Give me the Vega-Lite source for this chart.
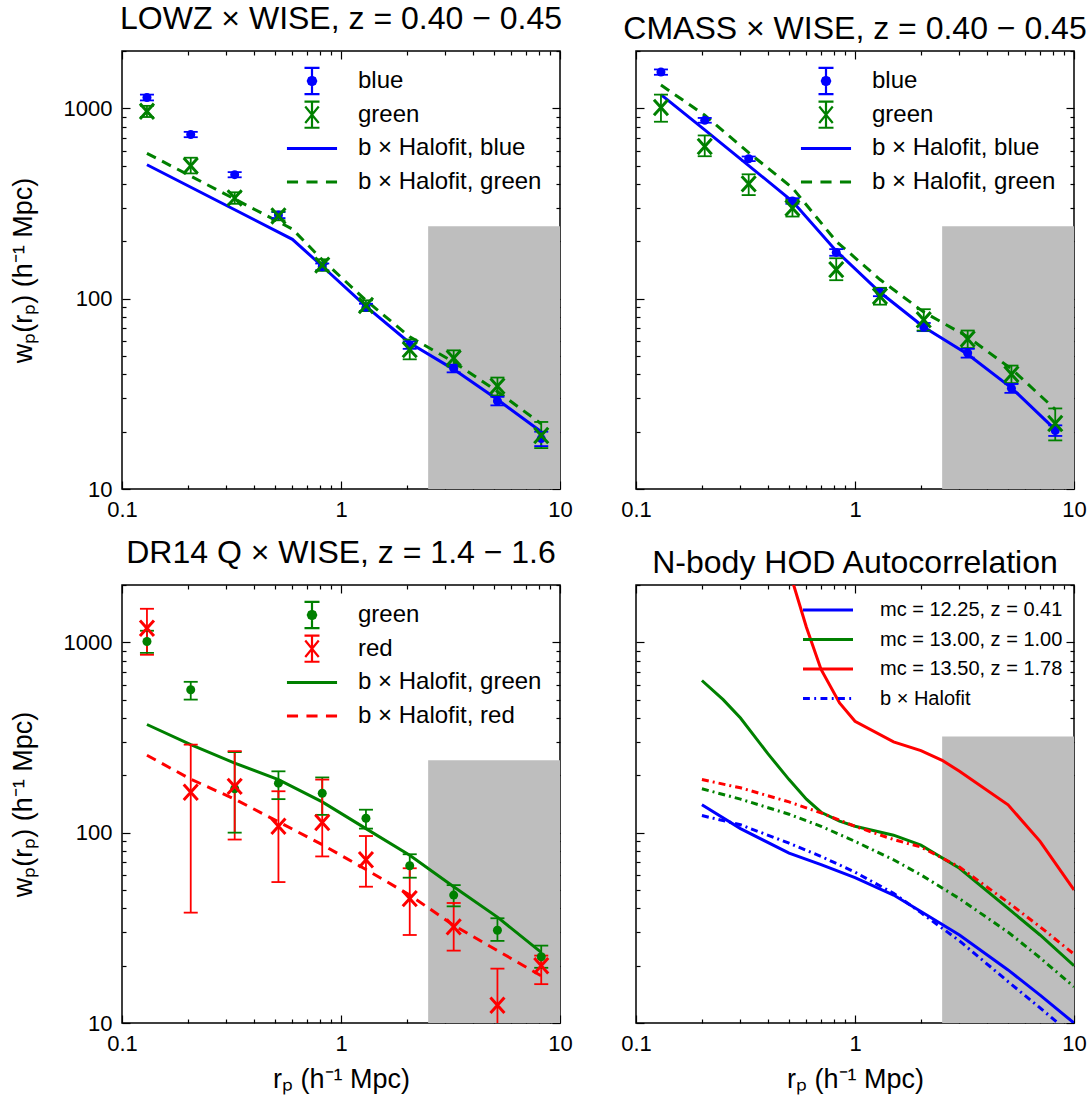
{
  "$schema": "https://vega.github.io/schema/vega-lite/v6.json",
  "padding": {"left": 8, "top": 2, "right": 5, "bottom": 5},
  "config": {
    "font": "Liberation Sans",
    "view": {"stroke": "black", "strokeWidth": 1.5},
    "axis": {"domain": false, "grid": false, "tickColor": "black", "tickWidth": 1.2, "labelFontSize": 22, "labelColor": "black", "labelFont": "Liberation Sans", "labelPadding": 18, "labelOverlap": false, "labelFlush": false, "titleFont": "Liberation Sans", "titleFontSize": 27, "titleFontWeight": "normal", "titleColor": "black"},
    "title": {"fontSize": 32, "fontWeight": "normal", "font": "Liberation Sans", "color": "black", "anchor": "middle", "offset": 4},
    "legend": {"labelFont": "Liberation Sans", "labelColor": "black", "orient": "top-right", "padding": 0, "labelLimit": 400}
  },
  "datasets": {
    "shade": [{"x": 2.5, "x2": 10, "y": 10, "y2": 240}],
    "shade4": [{"x": 2.5, "x2": 10, "y": 10, "y2": 320}],
    "p1": [
      {"x": 0.13, "y": 1140, "lo": 1100, "hi": 1180, "s": "blue"},
      {"x": 0.206, "y": 728, "lo": 705, "hi": 752, "s": "blue"},
      {"x": 0.327, "y": 448, "lo": 434, "hi": 462, "s": "blue"},
      {"x": 0.518, "y": 275, "lo": 265, "hi": 285, "s": "blue"},
      {"x": 0.821, "y": 147, "lo": 141, "hi": 153, "s": "blue"},
      {"x": 1.3, "y": 90, "lo": 86, "hi": 94, "s": "blue"},
      {"x": 2.06, "y": 57, "lo": 54.5, "hi": 59.5, "s": "blue"},
      {"x": 3.27, "y": 43, "lo": 41, "hi": 45, "s": "blue"},
      {"x": 5.18, "y": 29, "lo": 27.5, "hi": 30.5, "s": "blue"},
      {"x": 8.21, "y": 18.4, "lo": 16.8, "hi": 20, "s": "blue"},
      {"x": 0.13, "y": 964, "lo": 900, "hi": 1030, "s": "green"},
      {"x": 0.206, "y": 499, "lo": 455, "hi": 550, "s": "green"},
      {"x": 0.327, "y": 338, "lo": 315, "hi": 362, "s": "green"},
      {"x": 0.518, "y": 272, "lo": 258, "hi": 287, "s": "green"},
      {"x": 0.821, "y": 150, "lo": 140, "hi": 161, "s": "green"},
      {"x": 1.3, "y": 92, "lo": 86, "hi": 98, "s": "green"},
      {"x": 2.06, "y": 54, "lo": 48, "hi": 61, "s": "green"},
      {"x": 3.27, "y": 48.7, "lo": 44, "hi": 53.5, "s": "green"},
      {"x": 5.18, "y": 34.7, "lo": 31, "hi": 38.5, "s": "green"},
      {"x": 8.21, "y": 19.1, "lo": 16.4, "hi": 22.5, "s": "green"}
    ],
    "l1": [
      {"x": 0.13, "y": 505, "s": "b × Halofit, blue"},
      {"x": 0.6, "y": 205, "s": "b × Halofit, blue"},
      {"x": 0.821, "y": 148, "s": "b × Halofit, blue"},
      {"x": 1.3, "y": 91, "s": "b × Halofit, blue"},
      {"x": 2.06, "y": 58.5, "s": "b × Halofit, blue"},
      {"x": 3.27, "y": 42.5, "s": "b × Halofit, blue"},
      {"x": 5.18, "y": 29.5, "s": "b × Halofit, blue"},
      {"x": 8.21, "y": 20, "s": "b × Halofit, blue"},
      {"x": 0.13, "y": 580, "s": "b × Halofit, green"},
      {"x": 0.6, "y": 232, "s": "b × Halofit, green"},
      {"x": 0.821, "y": 160, "s": "b × Halofit, green"},
      {"x": 1.3, "y": 98, "s": "b × Halofit, green"},
      {"x": 2.06, "y": 63, "s": "b × Halofit, green"},
      {"x": 3.27, "y": 46.5, "s": "b × Halofit, green"},
      {"x": 5.18, "y": 32.5, "s": "b × Halofit, green"},
      {"x": 8.21, "y": 22, "s": "b × Halofit, green"}
    ],
    "p2": [
      {"x": 0.13, "y": 1550, "lo": 1500, "hi": 1600, "s": "blue"},
      {"x": 0.206, "y": 865, "lo": 840, "hi": 890, "s": "blue"},
      {"x": 0.327, "y": 543, "lo": 528, "hi": 558, "s": "blue"},
      {"x": 0.518, "y": 326, "lo": 315, "hi": 337, "s": "blue"},
      {"x": 0.821, "y": 175, "lo": 168, "hi": 182, "s": "blue"},
      {"x": 1.3, "y": 108, "lo": 103, "hi": 113, "s": "blue"},
      {"x": 2.06, "y": 71, "lo": 67.5, "hi": 74.5, "s": "blue"},
      {"x": 3.27, "y": 51.8, "lo": 49, "hi": 54.5, "s": "blue"},
      {"x": 5.18, "y": 33.8, "lo": 32, "hi": 35.6, "s": "blue"},
      {"x": 8.21, "y": 20.3, "lo": 19, "hi": 21.6, "s": "blue"},
      {"x": 0.13, "y": 1010, "lo": 850, "hi": 1180, "s": "green"},
      {"x": 0.206, "y": 630, "lo": 560, "hi": 720, "s": "green"},
      {"x": 0.327, "y": 401, "lo": 350, "hi": 450, "s": "green"},
      {"x": 0.518, "y": 299, "lo": 270, "hi": 330, "s": "green"},
      {"x": 0.821, "y": 142, "lo": 125, "hi": 163, "s": "green"},
      {"x": 1.3, "y": 103, "lo": 93, "hi": 114, "s": "green"},
      {"x": 2.06, "y": 77.4, "lo": 68, "hi": 88, "s": "green"},
      {"x": 3.27, "y": 61.4, "lo": 55, "hi": 68, "s": "green"},
      {"x": 5.18, "y": 40.1, "lo": 36, "hi": 44.5, "s": "green"},
      {"x": 8.21, "y": 22.1, "lo": 18, "hi": 26.5, "s": "green"}
    ],
    "l2": [
      {"x": 0.13, "y": 1180, "s": "b × Halofit, blue"},
      {"x": 0.206, "y": 770, "s": "b × Halofit, blue"},
      {"x": 0.327, "y": 500, "s": "b × Halofit, blue"},
      {"x": 0.518, "y": 325, "s": "b × Halofit, blue"},
      {"x": 0.821, "y": 178, "s": "b × Halofit, blue"},
      {"x": 1.3, "y": 108, "s": "b × Halofit, blue"},
      {"x": 2.06, "y": 71, "s": "b × Halofit, blue"},
      {"x": 3.27, "y": 51, "s": "b × Halofit, blue"},
      {"x": 5.18, "y": 34, "s": "b × Halofit, blue"},
      {"x": 8.21, "y": 20.5, "s": "b × Halofit, blue"},
      {"x": 0.13, "y": 1325, "s": "b × Halofit, green"},
      {"x": 0.206, "y": 920, "s": "b × Halofit, green"},
      {"x": 0.327, "y": 585, "s": "b × Halofit, green"},
      {"x": 0.518, "y": 382, "s": "b × Halofit, green"},
      {"x": 0.821, "y": 200, "s": "b × Halofit, green"},
      {"x": 1.3, "y": 126, "s": "b × Halofit, green"},
      {"x": 2.06, "y": 85, "s": "b × Halofit, green"},
      {"x": 3.27, "y": 63, "s": "b × Halofit, green"},
      {"x": 5.18, "y": 42.7, "s": "b × Halofit, green"},
      {"x": 8.21, "y": 26.2, "s": "b × Halofit, green"}
    ],
    "p3": [
      {"x": 0.13, "y": 1010, "lo": 880, "hi": 1150, "s": "green"},
      {"x": 0.206, "y": 563, "lo": 500, "hi": 620, "s": "green"},
      {"x": 0.327, "y": 170, "lo": 100, "hi": 265, "s": "green"},
      {"x": 0.518, "y": 182, "lo": 150, "hi": 210, "s": "green"},
      {"x": 0.821, "y": 161, "lo": 124, "hi": 195, "s": "green"},
      {"x": 1.3, "y": 119, "lo": 105, "hi": 132, "s": "green"},
      {"x": 2.06, "y": 67, "lo": 58, "hi": 77, "s": "green"},
      {"x": 3.27, "y": 47, "lo": 41, "hi": 53, "s": "green"},
      {"x": 5.18, "y": 30.7, "lo": 27, "hi": 35.5, "s": "green"},
      {"x": 8.21, "y": 22.3, "lo": 19.5, "hi": 25.5, "s": "green"},
      {"x": 0.13, "y": 1186, "lo": 860, "hi": 1500, "s": "red"},
      {"x": 0.206, "y": 163, "lo": 38, "hi": 290, "s": "red"},
      {"x": 0.327, "y": 175, "lo": 92, "hi": 268, "s": "red"},
      {"x": 0.518, "y": 108, "lo": 55, "hi": 165, "s": "red"},
      {"x": 0.821, "y": 113, "lo": 75, "hi": 190, "s": "red"},
      {"x": 1.3, "y": 72, "lo": 52, "hi": 96, "s": "red"},
      {"x": 2.06, "y": 45, "lo": 29, "hi": 65, "s": "red"},
      {"x": 3.27, "y": 32, "lo": 24, "hi": 42.7, "s": "red"},
      {"x": 5.18, "y": 12.4, "lo": 5, "hi": 19.3, "s": "red"},
      {"x": 8.21, "y": 20, "lo": 16, "hi": 22.6, "s": "red"}
    ],
    "l3": [
      {"x": 0.13, "y": 370, "s": "b × Halofit, green"},
      {"x": 0.206, "y": 290, "s": "b × Halofit, green"},
      {"x": 0.327, "y": 232, "s": "b × Halofit, green"},
      {"x": 0.518, "y": 190, "s": "b × Halofit, green"},
      {"x": 0.821, "y": 145, "s": "b × Halofit, green"},
      {"x": 1.3, "y": 105, "s": "b × Halofit, green"},
      {"x": 2.06, "y": 76, "s": "b × Halofit, green"},
      {"x": 3.27, "y": 52, "s": "b × Halofit, green"},
      {"x": 5.18, "y": 36, "s": "b × Halofit, green"},
      {"x": 8.21, "y": 23.5, "s": "b × Halofit, green"},
      {"x": 0.13, "y": 255, "s": "b × Halofit, red"},
      {"x": 0.206, "y": 191, "s": "b × Halofit, red"},
      {"x": 0.327, "y": 150, "s": "b × Halofit, red"},
      {"x": 0.518, "y": 114, "s": "b × Halofit, red"},
      {"x": 0.821, "y": 86.5, "s": "b × Halofit, red"},
      {"x": 1.3, "y": 64, "s": "b × Halofit, red"},
      {"x": 2.06, "y": 47, "s": "b × Halofit, red"},
      {"x": 3.27, "y": 32.6, "s": "b × Halofit, red"},
      {"x": 5.18, "y": 24, "s": "b × Halofit, red"},
      {"x": 8.21, "y": 17.7, "s": "b × Halofit, red"}
    ],
    "l4": [
      {"x": 0.2, "y": 140, "s": "mc = 12.25, z = 0.41"},
      {"x": 0.3, "y": 105, "s": "mc = 12.25, z = 0.41"},
      {"x": 0.5, "y": 78, "s": "mc = 12.25, z = 0.41"},
      {"x": 0.7, "y": 68, "s": "mc = 12.25, z = 0.41"},
      {"x": 1, "y": 58, "s": "mc = 12.25, z = 0.41"},
      {"x": 1.5, "y": 47, "s": "mc = 12.25, z = 0.41"},
      {"x": 2, "y": 38.5, "s": "mc = 12.25, z = 0.41"},
      {"x": 3, "y": 29, "s": "mc = 12.25, z = 0.41"},
      {"x": 5, "y": 19, "s": "mc = 12.25, z = 0.41"},
      {"x": 7, "y": 14, "s": "mc = 12.25, z = 0.41"},
      {"x": 10, "y": 10, "s": "mc = 12.25, z = 0.41"},
      {"x": 0.2, "y": 630, "s": "mc = 13.00, z = 1.00"},
      {"x": 0.25, "y": 500, "s": "mc = 13.00, z = 1.00"},
      {"x": 0.3, "y": 400, "s": "mc = 13.00, z = 1.00"},
      {"x": 0.4, "y": 260, "s": "mc = 13.00, z = 1.00"},
      {"x": 0.5, "y": 190, "s": "mc = 13.00, z = 1.00"},
      {"x": 0.6, "y": 150, "s": "mc = 13.00, z = 1.00"},
      {"x": 0.7, "y": 128, "s": "mc = 13.00, z = 1.00"},
      {"x": 0.85, "y": 115, "s": "mc = 13.00, z = 1.00"},
      {"x": 1, "y": 108, "s": "mc = 13.00, z = 1.00"},
      {"x": 1.5, "y": 97, "s": "mc = 13.00, z = 1.00"},
      {"x": 2, "y": 86, "s": "mc = 13.00, z = 1.00"},
      {"x": 3, "y": 65, "s": "mc = 13.00, z = 1.00"},
      {"x": 5, "y": 40, "s": "mc = 13.00, z = 1.00"},
      {"x": 7, "y": 29, "s": "mc = 13.00, z = 1.00"},
      {"x": 10, "y": 20, "s": "mc = 13.00, z = 1.00"},
      {"x": 0.2, "y": 30000, "s": "mc = 13.50, z = 1.78"},
      {"x": 0.3, "y": 9000, "s": "mc = 13.50, z = 1.78"},
      {"x": 0.4, "y": 4300, "s": "mc = 13.50, z = 1.78"},
      {"x": 0.5, "y": 2400, "s": "mc = 13.50, z = 1.78"},
      {"x": 0.6, "y": 1200, "s": "mc = 13.50, z = 1.78"},
      {"x": 0.7, "y": 720, "s": "mc = 13.50, z = 1.78"},
      {"x": 0.85, "y": 480, "s": "mc = 13.50, z = 1.78"},
      {"x": 1, "y": 385, "s": "mc = 13.50, z = 1.78"},
      {"x": 1.5, "y": 300, "s": "mc = 13.50, z = 1.78"},
      {"x": 2, "y": 270, "s": "mc = 13.50, z = 1.78"},
      {"x": 2.5, "y": 240, "s": "mc = 13.50, z = 1.78"},
      {"x": 3, "y": 210, "s": "mc = 13.50, z = 1.78"},
      {"x": 5, "y": 140, "s": "mc = 13.50, z = 1.78"},
      {"x": 7, "y": 90, "s": "mc = 13.50, z = 1.78"},
      {"x": 10, "y": 50, "s": "mc = 13.50, z = 1.78"},
      {"x": 0.2, "y": 123, "s": "b × Halofit"},
      {"x": 0.3, "y": 110, "s": "b × Halofit"},
      {"x": 0.5, "y": 88, "s": "b × Halofit"},
      {"x": 0.7, "y": 75, "s": "b × Halofit"},
      {"x": 1, "y": 62, "s": "b × Halofit"},
      {"x": 1.5, "y": 48, "s": "b × Halofit"},
      {"x": 2, "y": 38, "s": "b × Halofit"},
      {"x": 3, "y": 27, "s": "b × Halofit"},
      {"x": 5, "y": 16.5, "s": "b × Halofit"},
      {"x": 7, "y": 12, "s": "b × Halofit"},
      {"x": 10, "y": 8.5, "s": "b × Halofit"},
      {"x": 0.2, "y": 170, "s": "hf green"},
      {"x": 0.3, "y": 150, "s": "hf green"},
      {"x": 0.5, "y": 125, "s": "hf green"},
      {"x": 0.7, "y": 108, "s": "hf green"},
      {"x": 1, "y": 90, "s": "hf green"},
      {"x": 1.5, "y": 72, "s": "hf green"},
      {"x": 2, "y": 60, "s": "hf green"},
      {"x": 3, "y": 45, "s": "hf green"},
      {"x": 5, "y": 30, "s": "hf green"},
      {"x": 7, "y": 22, "s": "hf green"},
      {"x": 10, "y": 15.5, "s": "hf green"},
      {"x": 0.2, "y": 190, "s": "hf red"},
      {"x": 0.3, "y": 172, "s": "hf red"},
      {"x": 0.5, "y": 145, "s": "hf red"},
      {"x": 0.7, "y": 127, "s": "hf red"},
      {"x": 1, "y": 108, "s": "hf red"},
      {"x": 1.5, "y": 92, "s": "hf red"},
      {"x": 2, "y": 84, "s": "hf red"},
      {"x": 3, "y": 66, "s": "hf red"},
      {"x": 5, "y": 43, "s": "hf red"},
      {"x": 7, "y": 32, "s": "hf red"},
      {"x": 10, "y": 23, "s": "hf red"}
    ]
  },
  "bounds": "flush",
  "columns": 2,
  "spacing": {"row": 96, "column": 76},
  "resolve": {"scale": {"color": "independent", "x": "independent", "y": "independent"}, "legend": {"color": "independent"}},
  "concat": [
    {
      "width": 438, "height": 438,
      "title": {"text": "LOWZ × WISE, z = 0.40 − 0.45"},
      "encoding": {"color": {"field": "s", "type": "nominal",
        "scale": {"domain": ["blue", "green", "b × Halofit, blue", "b × Halofit, green"], "range": ["#0000ff", "#008000", "#0000ff", "#008000"]},
        "legend": {"title": null, "offset": 18, "symbolSize": 900, "labelFontSize": 24, "labelOffset": 34, "rowPadding": -2.3,
          "encode": {"symbols": {"update": {
            "shape": {"signal": "datum.index == 0 ? 'M0,-0.87V0.87M-0.5,-0.87H0.5M-0.5,0.87H0.5M0.28,0L0.2,0.2L0,0.28L-0.2,0.2L-0.28,0L-0.2,-0.2L0,-0.28L0.2,-0.2Z' : datum.index == 1 ? 'M0,-0.87V0.87M-0.5,-0.87H0.5M-0.5,0.87H0.5M-0.45,-0.55L0.45,0.55M0.45,-0.55L-0.45,0.55' : datum.index == 2 ? 'M0,-0.78M0,0.78M-1.67,0H1.67' : 'M0,-0.78M0,0.78M-1.67,0H-0.93M-0.37,0H0.37M0.93,0H1.67'"},
            "fill": {"signal": "datum.index == 0 ? '#0000ff' : 'transparent'"},
            "stroke": {"signal": "datum.index % 2 == 0 ? '#0000ff' : '#008000'"},
            "strokeWidth": {"signal": "datum.index < 2 ? 2.2 : 3"},
            "opacity": {"value": 1}, "fillOpacity": {"value": 1}, "strokeOpacity": {"value": 1}}}}}}},
      "layer": [
        {"data": {"name": "shade"}, "mark": {"type": "rect"},
          "encoding": {"x": {"field": "x", "type": "quantitative", "scale": {"type": "log", "domain": [0.1, 10], "nice": false},
              "axis": {"orient": "bottom", "values": [0.1,0.2,0.3,0.4,0.5,0.6,0.7,0.8,0.9,1,2,3,4,5,6,7,8,9,10], "labelExpr": "datum.value == 0.1 ? '0.1' : datum.value == 1 ? '1' : datum.value == 10 ? '10' : ''", "tickSize": {"condition": {"test": "datum.value == 0.1 || datum.value == 1 || datum.value == 10", "value": -8}, "value": -4}, "title": null}},
            "x2": {"field": "x2"},
            "y": {"field": "y", "type": "quantitative", "scale": {"type": "log", "domain": [10, 2000], "nice": false},
              "axis": {"orient": "left", "values": [10,20,30,40,50,60,70,80,90,100,200,300,400,500,600,700,800,900,1000,2000], "labelExpr": "datum.value == 10 ? '10' : datum.value == 100 ? '100' : datum.value == 1000 ? '1000' : ''", "tickSize": {"condition": {"test": "datum.value == 10 || datum.value == 100 || datum.value == 1000", "value": -8}, "value": -4}, "title": "wₚ(rₚ) (h⁻¹ Mpc)", "titlePadding": 26}},
            "y2": {"field": "y2"}, "color": {"value": "#bebebe"}}},
        {"data": {"name": "shade"}, "mark": {"type": "rect", "opacity": 0},
          "encoding": {"x": {"field": "x", "type": "quantitative", "scale": {"type": "log", "domain": [0.1, 10], "nice": false},
              "axis": {"orient": "top", "values": [0.1,0.2,0.3,0.4,0.5,0.6,0.7,0.8,0.9,1,2,3,4,5,6,7,8,9,10], "labels": false, "tickSize": {"condition": {"test": "datum.value == 0.1 || datum.value == 1 || datum.value == 10", "value": -8}, "value": -4}, "title": null}},
            "x2": {"field": "x2"},
            "y": {"field": "y", "type": "quantitative", "scale": {"type": "log", "domain": [10, 2000], "nice": false},
              "axis": {"orient": "right", "values": [10,20,30,40,50,60,70,80,90,100,200,300,400,500,600,700,800,900,1000,2000], "labels": false, "tickSize": {"condition": {"test": "datum.value == 10 || datum.value == 100 || datum.value == 1000", "value": -8}, "value": -4}, "title": null}},
            "y2": {"field": "y2"}, "color": {"value": "#bebebe"}}},
        {"data": {"name": "l1"}, "transform": [{"filter": "datum.s == 'b × Halofit, blue'"}], "mark": {"type": "line", "strokeWidth": 3, "clip": true},
          "encoding": {"x": {"field": "x", "type": "quantitative", "scale": {"type": "log", "domain": [0.1, 10], "nice": false}, "axis": null}, "y": {"field": "y", "type": "quantitative", "scale": {"type": "log", "domain": [10, 2000], "nice": false}, "axis": null}}},
        {"data": {"name": "l1"}, "transform": [{"filter": "datum.s == 'b × Halofit, green'"}], "mark": {"type": "line", "strokeWidth": 3, "strokeDash": [10, 7], "clip": true},
          "encoding": {"x": {"field": "x", "type": "quantitative", "scale": {"type": "log", "domain": [0.1, 10], "nice": false}, "axis": null}, "y": {"field": "y", "type": "quantitative", "scale": {"type": "log", "domain": [10, 2000], "nice": false}, "axis": null}}},
        {"data": {"name": "p1"}, "mark": {"type": "rule", "strokeWidth": 1.8, "clip": true},
          "encoding": {"x": {"field": "x", "type": "quantitative", "scale": {"type": "log", "domain": [0.1, 10], "nice": false}, "axis": null}, "y": {"field": "lo", "type": "quantitative", "scale": {"type": "log", "domain": [10, 2000], "nice": false}, "axis": null}, "y2": {"field": "hi"}}},
        {"data": {"name": "p1"}, "mark": {"type": "point", "shape": "M-1,0H1", "size": 196, "strokeWidth": 1.8, "opacity": 1, "clip": true},
          "encoding": {"x": {"field": "x", "type": "quantitative", "scale": {"type": "log", "domain": [0.1, 10], "nice": false}, "axis": null}, "y": {"field": "lo", "type": "quantitative", "scale": {"type": "log", "domain": [10, 2000], "nice": false}, "axis": null}}},
        {"data": {"name": "p1"}, "mark": {"type": "point", "shape": "M-1,0H1", "size": 196, "strokeWidth": 1.8, "opacity": 1, "clip": true},
          "encoding": {"x": {"field": "x", "type": "quantitative", "scale": {"type": "log", "domain": [0.1, 10], "nice": false}, "axis": null}, "y": {"field": "hi", "type": "quantitative", "scale": {"type": "log", "domain": [10, 2000], "nice": false}, "axis": null}}},
        {"data": {"name": "p1"}, "transform": [{"filter": "datum.s == 'blue'"}], "mark": {"type": "point", "shape": "circle", "filled": true, "size": 81, "opacity": 1, "clip": true},
          "encoding": {"x": {"field": "x", "type": "quantitative", "scale": {"type": "log", "domain": [0.1, 10], "nice": false}, "axis": null}, "y": {"field": "y", "type": "quantitative", "scale": {"type": "log", "domain": [10, 2000], "nice": false}, "axis": null}}},
        {"data": {"name": "p1"}, "transform": [{"filter": "datum.s == 'green'"}], "mark": {"type": "point", "shape": "M-1,-1.1L1,1.1M1,-1.1L-1,1.1", "size": 196, "strokeWidth": 3, "opacity": 1, "clip": true},
          "encoding": {"x": {"field": "x", "type": "quantitative", "scale": {"type": "log", "domain": [0.1, 10], "nice": false}, "axis": null}, "y": {"field": "y", "type": "quantitative", "scale": {"type": "log", "domain": [10, 2000], "nice": false}, "axis": null}}}
      ],
      "resolve": {"axis": {"x": "independent", "y": "independent"}}
    },
    {
      "width": 438, "height": 438,
      "title": {"text": "CMASS × WISE, z = 0.40 − 0.45"},
      "encoding": {"color": {"field": "s", "type": "nominal",
        "scale": {"domain": ["blue", "green", "b × Halofit, blue", "b × Halofit, green"], "range": ["#0000ff", "#008000", "#0000ff", "#008000"]},
        "legend": {"title": null, "offset": 18, "symbolSize": 900, "labelFontSize": 24, "labelOffset": 34, "rowPadding": -2.3,
          "encode": {"symbols": {"update": {
            "shape": {"signal": "datum.index == 0 ? 'M0,-0.87V0.87M-0.5,-0.87H0.5M-0.5,0.87H0.5M0.28,0L0.2,0.2L0,0.28L-0.2,0.2L-0.28,0L-0.2,-0.2L0,-0.28L0.2,-0.2Z' : datum.index == 1 ? 'M0,-0.87V0.87M-0.5,-0.87H0.5M-0.5,0.87H0.5M-0.45,-0.55L0.45,0.55M0.45,-0.55L-0.45,0.55' : datum.index == 2 ? 'M0,-0.78M0,0.78M-1.67,0H1.67' : 'M0,-0.78M0,0.78M-1.67,0H-0.93M-0.37,0H0.37M0.93,0H1.67'"},
            "fill": {"signal": "datum.index == 0 ? '#0000ff' : 'transparent'"},
            "stroke": {"signal": "datum.index % 2 == 0 ? '#0000ff' : '#008000'"},
            "strokeWidth": {"signal": "datum.index < 2 ? 2.2 : 3"},
            "opacity": {"value": 1}, "fillOpacity": {"value": 1}, "strokeOpacity": {"value": 1}}}}}}},
      "layer": [
        {"data": {"name": "shade"}, "mark": {"type": "rect"},
          "encoding": {"x": {"field": "x", "type": "quantitative", "scale": {"type": "log", "domain": [0.1, 10], "nice": false},
              "axis": {"orient": "bottom", "values": [0.1,0.2,0.3,0.4,0.5,0.6,0.7,0.8,0.9,1,2,3,4,5,6,7,8,9,10], "labelExpr": "datum.value == 0.1 ? '0.1' : datum.value == 1 ? '1' : datum.value == 10 ? '10' : ''", "tickSize": {"condition": {"test": "datum.value == 0.1 || datum.value == 1 || datum.value == 10", "value": -8}, "value": -4}, "title": null}},
            "x2": {"field": "x2"},
            "y": {"field": "y", "type": "quantitative", "scale": {"type": "log", "domain": [10, 2000], "nice": false},
              "axis": {"orient": "left", "values": [10,20,30,40,50,60,70,80,90,100,200,300,400,500,600,700,800,900,1000,2000], "labels": false, "tickSize": {"condition": {"test": "datum.value == 10 || datum.value == 100 || datum.value == 1000", "value": -8}, "value": -4}, "title": null}},
            "y2": {"field": "y2"}, "color": {"value": "#bebebe"}}},
        {"data": {"name": "shade"}, "mark": {"type": "rect", "opacity": 0},
          "encoding": {"x": {"field": "x", "type": "quantitative", "scale": {"type": "log", "domain": [0.1, 10], "nice": false},
              "axis": {"orient": "top", "values": [0.1,0.2,0.3,0.4,0.5,0.6,0.7,0.8,0.9,1,2,3,4,5,6,7,8,9,10], "labels": false, "tickSize": {"condition": {"test": "datum.value == 0.1 || datum.value == 1 || datum.value == 10", "value": -8}, "value": -4}, "title": null}},
            "x2": {"field": "x2"},
            "y": {"field": "y", "type": "quantitative", "scale": {"type": "log", "domain": [10, 2000], "nice": false},
              "axis": {"orient": "right", "values": [10,20,30,40,50,60,70,80,90,100,200,300,400,500,600,700,800,900,1000,2000], "labels": false, "tickSize": {"condition": {"test": "datum.value == 10 || datum.value == 100 || datum.value == 1000", "value": -8}, "value": -4}, "title": null}},
            "y2": {"field": "y2"}, "color": {"value": "#bebebe"}}},
        {"data": {"name": "l2"}, "transform": [{"filter": "datum.s == 'b × Halofit, blue'"}], "mark": {"type": "line", "strokeWidth": 3, "clip": true},
          "encoding": {"x": {"field": "x", "type": "quantitative", "scale": {"type": "log", "domain": [0.1, 10], "nice": false}, "axis": null}, "y": {"field": "y", "type": "quantitative", "scale": {"type": "log", "domain": [10, 2000], "nice": false}, "axis": null}}},
        {"data": {"name": "l2"}, "transform": [{"filter": "datum.s == 'b × Halofit, green'"}], "mark": {"type": "line", "strokeWidth": 3, "strokeDash": [10, 7], "clip": true},
          "encoding": {"x": {"field": "x", "type": "quantitative", "scale": {"type": "log", "domain": [0.1, 10], "nice": false}, "axis": null}, "y": {"field": "y", "type": "quantitative", "scale": {"type": "log", "domain": [10, 2000], "nice": false}, "axis": null}}},
        {"data": {"name": "p2"}, "mark": {"type": "rule", "strokeWidth": 1.8, "clip": true},
          "encoding": {"x": {"field": "x", "type": "quantitative", "scale": {"type": "log", "domain": [0.1, 10], "nice": false}, "axis": null}, "y": {"field": "lo", "type": "quantitative", "scale": {"type": "log", "domain": [10, 2000], "nice": false}, "axis": null}, "y2": {"field": "hi"}}},
        {"data": {"name": "p2"}, "mark": {"type": "point", "shape": "M-1,0H1", "size": 196, "strokeWidth": 1.8, "opacity": 1, "clip": true},
          "encoding": {"x": {"field": "x", "type": "quantitative", "scale": {"type": "log", "domain": [0.1, 10], "nice": false}, "axis": null}, "y": {"field": "lo", "type": "quantitative", "scale": {"type": "log", "domain": [10, 2000], "nice": false}, "axis": null}}},
        {"data": {"name": "p2"}, "mark": {"type": "point", "shape": "M-1,0H1", "size": 196, "strokeWidth": 1.8, "opacity": 1, "clip": true},
          "encoding": {"x": {"field": "x", "type": "quantitative", "scale": {"type": "log", "domain": [0.1, 10], "nice": false}, "axis": null}, "y": {"field": "hi", "type": "quantitative", "scale": {"type": "log", "domain": [10, 2000], "nice": false}, "axis": null}}},
        {"data": {"name": "p2"}, "transform": [{"filter": "datum.s == 'blue'"}], "mark": {"type": "point", "shape": "circle", "filled": true, "size": 81, "opacity": 1, "clip": true},
          "encoding": {"x": {"field": "x", "type": "quantitative", "scale": {"type": "log", "domain": [0.1, 10], "nice": false}, "axis": null}, "y": {"field": "y", "type": "quantitative", "scale": {"type": "log", "domain": [10, 2000], "nice": false}, "axis": null}}},
        {"data": {"name": "p2"}, "transform": [{"filter": "datum.s == 'green'"}], "mark": {"type": "point", "shape": "M-1,-1.1L1,1.1M1,-1.1L-1,1.1", "size": 196, "strokeWidth": 3, "opacity": 1, "clip": true},
          "encoding": {"x": {"field": "x", "type": "quantitative", "scale": {"type": "log", "domain": [0.1, 10], "nice": false}, "axis": null}, "y": {"field": "y", "type": "quantitative", "scale": {"type": "log", "domain": [10, 2000], "nice": false}, "axis": null}}}
      ],
      "resolve": {"axis": {"x": "independent", "y": "independent"}}
    },
    {
      "width": 438, "height": 438,
      "title": {"text": "DR14 Q × WISE, z = 1.4 − 1.6"},
      "encoding": {"color": {"field": "s", "type": "nominal",
        "scale": {"domain": ["green", "red", "b × Halofit, green", "b × Halofit, red"], "range": ["#008000", "#ff0000", "#008000", "#ff0000"]},
        "legend": {"title": null, "offset": 18, "symbolSize": 900, "labelFontSize": 24, "labelOffset": 34, "rowPadding": -2.3,
          "encode": {"symbols": {"update": {
            "shape": {"signal": "datum.index == 0 ? 'M0,-0.87V0.87M-0.5,-0.87H0.5M-0.5,0.87H0.5M0.28,0L0.2,0.2L0,0.28L-0.2,0.2L-0.28,0L-0.2,-0.2L0,-0.28L0.2,-0.2Z' : datum.index == 1 ? 'M0,-0.87V0.87M-0.5,-0.87H0.5M-0.5,0.87H0.5M-0.45,-0.55L0.45,0.55M0.45,-0.55L-0.45,0.55' : datum.index == 2 ? 'M0,-0.78M0,0.78M-1.67,0H1.67' : 'M0,-0.78M0,0.78M-1.67,0H-0.93M-0.37,0H0.37M0.93,0H1.67'"},
            "fill": {"signal": "datum.index == 0 ? '#008000' : 'transparent'"},
            "stroke": {"signal": "datum.index % 2 == 0 ? '#008000' : '#ff0000'"},
            "strokeWidth": {"signal": "datum.index < 2 ? 2.2 : 3"},
            "opacity": {"value": 1}, "fillOpacity": {"value": 1}, "strokeOpacity": {"value": 1}}}}}}},
      "layer": [
        {"data": {"name": "shade"}, "mark": {"type": "rect"},
          "encoding": {"x": {"field": "x", "type": "quantitative", "scale": {"type": "log", "domain": [0.1, 10], "nice": false},
              "axis": {"orient": "bottom", "values": [0.1,0.2,0.3,0.4,0.5,0.6,0.7,0.8,0.9,1,2,3,4,5,6,7,8,9,10], "labelExpr": "datum.value == 0.1 ? '0.1' : datum.value == 1 ? '1' : datum.value == 10 ? '10' : ''", "tickSize": {"condition": {"test": "datum.value == 0.1 || datum.value == 1 || datum.value == 10", "value": -8}, "value": -4}, "title": "rₚ (h⁻¹ Mpc)", "titlePadding": 8}},
            "x2": {"field": "x2"},
            "y": {"field": "y", "type": "quantitative", "scale": {"type": "log", "domain": [10, 2000], "nice": false},
              "axis": {"orient": "left", "values": [10,20,30,40,50,60,70,80,90,100,200,300,400,500,600,700,800,900,1000,2000], "labelExpr": "datum.value == 10 ? '10' : datum.value == 100 ? '100' : datum.value == 1000 ? '1000' : ''", "tickSize": {"condition": {"test": "datum.value == 10 || datum.value == 100 || datum.value == 1000", "value": -8}, "value": -4}, "title": "wₚ(rₚ) (h⁻¹ Mpc)", "titlePadding": 26}},
            "y2": {"field": "y2"}, "color": {"value": "#bebebe"}}},
        {"data": {"name": "shade"}, "mark": {"type": "rect", "opacity": 0},
          "encoding": {"x": {"field": "x", "type": "quantitative", "scale": {"type": "log", "domain": [0.1, 10], "nice": false},
              "axis": {"orient": "top", "values": [0.1,0.2,0.3,0.4,0.5,0.6,0.7,0.8,0.9,1,2,3,4,5,6,7,8,9,10], "labels": false, "tickSize": {"condition": {"test": "datum.value == 0.1 || datum.value == 1 || datum.value == 10", "value": -8}, "value": -4}, "title": null}},
            "x2": {"field": "x2"},
            "y": {"field": "y", "type": "quantitative", "scale": {"type": "log", "domain": [10, 2000], "nice": false},
              "axis": {"orient": "right", "values": [10,20,30,40,50,60,70,80,90,100,200,300,400,500,600,700,800,900,1000,2000], "labels": false, "tickSize": {"condition": {"test": "datum.value == 10 || datum.value == 100 || datum.value == 1000", "value": -8}, "value": -4}, "title": null}},
            "y2": {"field": "y2"}, "color": {"value": "#bebebe"}}},
        {"data": {"name": "l3"}, "transform": [{"filter": "datum.s == 'b × Halofit, green'"}], "mark": {"type": "line", "strokeWidth": 3, "clip": true},
          "encoding": {"x": {"field": "x", "type": "quantitative", "scale": {"type": "log", "domain": [0.1, 10], "nice": false}, "axis": null}, "y": {"field": "y", "type": "quantitative", "scale": {"type": "log", "domain": [10, 2000], "nice": false}, "axis": null}}},
        {"data": {"name": "l3"}, "transform": [{"filter": "datum.s == 'b × Halofit, red'"}], "mark": {"type": "line", "strokeWidth": 3, "strokeDash": [10, 7], "clip": true},
          "encoding": {"x": {"field": "x", "type": "quantitative", "scale": {"type": "log", "domain": [0.1, 10], "nice": false}, "axis": null}, "y": {"field": "y", "type": "quantitative", "scale": {"type": "log", "domain": [10, 2000], "nice": false}, "axis": null}}},
        {"data": {"name": "p3"}, "mark": {"type": "rule", "strokeWidth": 1.8, "clip": true},
          "encoding": {"x": {"field": "x", "type": "quantitative", "scale": {"type": "log", "domain": [0.1, 10], "nice": false}, "axis": null}, "y": {"field": "lo", "type": "quantitative", "scale": {"type": "log", "domain": [10, 2000], "nice": false}, "axis": null}, "y2": {"field": "hi"}}},
        {"data": {"name": "p3"}, "mark": {"type": "point", "shape": "M-1,0H1", "size": 196, "strokeWidth": 1.8, "opacity": 1, "clip": true},
          "encoding": {"x": {"field": "x", "type": "quantitative", "scale": {"type": "log", "domain": [0.1, 10], "nice": false}, "axis": null}, "y": {"field": "lo", "type": "quantitative", "scale": {"type": "log", "domain": [10, 2000], "nice": false}, "axis": null}}},
        {"data": {"name": "p3"}, "mark": {"type": "point", "shape": "M-1,0H1", "size": 196, "strokeWidth": 1.8, "opacity": 1, "clip": true},
          "encoding": {"x": {"field": "x", "type": "quantitative", "scale": {"type": "log", "domain": [0.1, 10], "nice": false}, "axis": null}, "y": {"field": "hi", "type": "quantitative", "scale": {"type": "log", "domain": [10, 2000], "nice": false}, "axis": null}}},
        {"data": {"name": "p3"}, "transform": [{"filter": "datum.s == 'green'"}], "mark": {"type": "point", "shape": "circle", "filled": true, "size": 81, "opacity": 1, "clip": true},
          "encoding": {"x": {"field": "x", "type": "quantitative", "scale": {"type": "log", "domain": [0.1, 10], "nice": false}, "axis": null}, "y": {"field": "y", "type": "quantitative", "scale": {"type": "log", "domain": [10, 2000], "nice": false}, "axis": null}}},
        {"data": {"name": "p3"}, "transform": [{"filter": "datum.s == 'red'"}], "mark": {"type": "point", "shape": "M-1,-1.1L1,1.1M1,-1.1L-1,1.1", "size": 196, "strokeWidth": 3, "opacity": 1, "clip": true},
          "encoding": {"x": {"field": "x", "type": "quantitative", "scale": {"type": "log", "domain": [0.1, 10], "nice": false}, "axis": null}, "y": {"field": "y", "type": "quantitative", "scale": {"type": "log", "domain": [10, 2000], "nice": false}, "axis": null}}}
      ],
      "resolve": {"axis": {"x": "independent", "y": "independent"}}
    },
    {
      "width": 438, "height": 438,
      "title": {"text": "N-body HOD Autocorrelation"},
      "encoding": {"color": {"field": "s", "type": "nominal",
        "scale": {"domain": ["mc = 12.25, z = 0.41", "mc = 13.00, z = 1.00", "mc = 13.50, z = 1.78", "b × Halofit", "hf green", "hf red"], "range": ["#0000ff", "#008000", "#ff0000", "#0000ff", "#008000", "#ff0000"]},
        "legend": {"title": null, "values": ["mc = 12.25, z = 0.41", "mc = 13.00, z = 1.00", "mc = 13.50, z = 1.78", "b × Halofit"], "offset": 11, "symbolSize": 625, "labelFontSize": 20, "labelOffset": 38, "rowPadding": 5.5,
          "encode": {"symbols": {"update": {
            "shape": {"signal": "datum.index < 3 ? 'M-2,0H2' : 'M-2,0H-1.45M-1.1,0H-0.95M-0.6,0H-0.05M0.3,0H0.45M0.8,0H1.35M1.7,0H1.85'"},
            "fill": {"value": "transparent"},
            "stroke": {"signal": "datum.index == 1 ? '#008000' : datum.index == 2 ? '#ff0000' : '#0000ff'"},
            "strokeWidth": {"value": 3},
            "opacity": {"value": 1}, "strokeOpacity": {"value": 1}}}}}}},
      "layer": [
        {"data": {"name": "shade4"}, "mark": {"type": "rect"},
          "encoding": {"x": {"field": "x", "type": "quantitative", "scale": {"type": "log", "domain": [0.1, 10], "nice": false},
              "axis": {"orient": "bottom", "values": [0.1,0.2,0.3,0.4,0.5,0.6,0.7,0.8,0.9,1,2,3,4,5,6,7,8,9,10], "labelExpr": "datum.value == 0.1 ? '0.1' : datum.value == 1 ? '1' : datum.value == 10 ? '10' : ''", "tickSize": {"condition": {"test": "datum.value == 0.1 || datum.value == 1 || datum.value == 10", "value": -8}, "value": -4}, "title": "rₚ (h⁻¹ Mpc)", "titlePadding": 8}},
            "x2": {"field": "x2"},
            "y": {"field": "y", "type": "quantitative", "scale": {"type": "log", "domain": [10, 2000], "nice": false},
              "axis": {"orient": "left", "values": [10,20,30,40,50,60,70,80,90,100,200,300,400,500,600,700,800,900,1000,2000], "labels": false, "tickSize": {"condition": {"test": "datum.value == 10 || datum.value == 100 || datum.value == 1000", "value": -8}, "value": -4}, "title": null}},
            "y2": {"field": "y2"}, "color": {"value": "#bebebe"}}},
        {"data": {"name": "shade4"}, "mark": {"type": "rect", "opacity": 0},
          "encoding": {"x": {"field": "x", "type": "quantitative", "scale": {"type": "log", "domain": [0.1, 10], "nice": false},
              "axis": {"orient": "top", "values": [0.1,0.2,0.3,0.4,0.5,0.6,0.7,0.8,0.9,1,2,3,4,5,6,7,8,9,10], "labels": false, "tickSize": {"condition": {"test": "datum.value == 0.1 || datum.value == 1 || datum.value == 10", "value": -8}, "value": -4}, "title": null}},
            "x2": {"field": "x2"},
            "y": {"field": "y", "type": "quantitative", "scale": {"type": "log", "domain": [10, 2000], "nice": false},
              "axis": {"orient": "right", "values": [10,20,30,40,50,60,70,80,90,100,200,300,400,500,600,700,800,900,1000,2000], "labels": false, "tickSize": {"condition": {"test": "datum.value == 10 || datum.value == 100 || datum.value == 1000", "value": -8}, "value": -4}, "title": null}},
            "y2": {"field": "y2"}, "color": {"value": "#bebebe"}}},
        {"data": {"name": "l4"}, "transform": [{"filter": "indexof(datum.s, 'mc') == 0"}], "mark": {"type": "line", "strokeWidth": 3, "clip": true},
          "encoding": {"x": {"field": "x", "type": "quantitative", "scale": {"type": "log", "domain": [0.1, 10], "nice": false}, "axis": null}, "y": {"field": "y", "type": "quantitative", "scale": {"type": "log", "domain": [10, 2000], "nice": false}, "axis": null}}},
        {"data": {"name": "l4"}, "transform": [{"filter": "indexof(datum.s, 'mc') != 0"}], "mark": {"type": "line", "strokeWidth": 3, "strokeDash": [7, 4, 2, 4], "clip": true},
          "encoding": {"x": {"field": "x", "type": "quantitative", "scale": {"type": "log", "domain": [0.1, 10], "nice": false}, "axis": null}, "y": {"field": "y", "type": "quantitative", "scale": {"type": "log", "domain": [10, 2000], "nice": false}, "axis": null}}}
      ],
      "resolve": {"axis": {"x": "independent", "y": "independent"}}
    }
  ]
}
